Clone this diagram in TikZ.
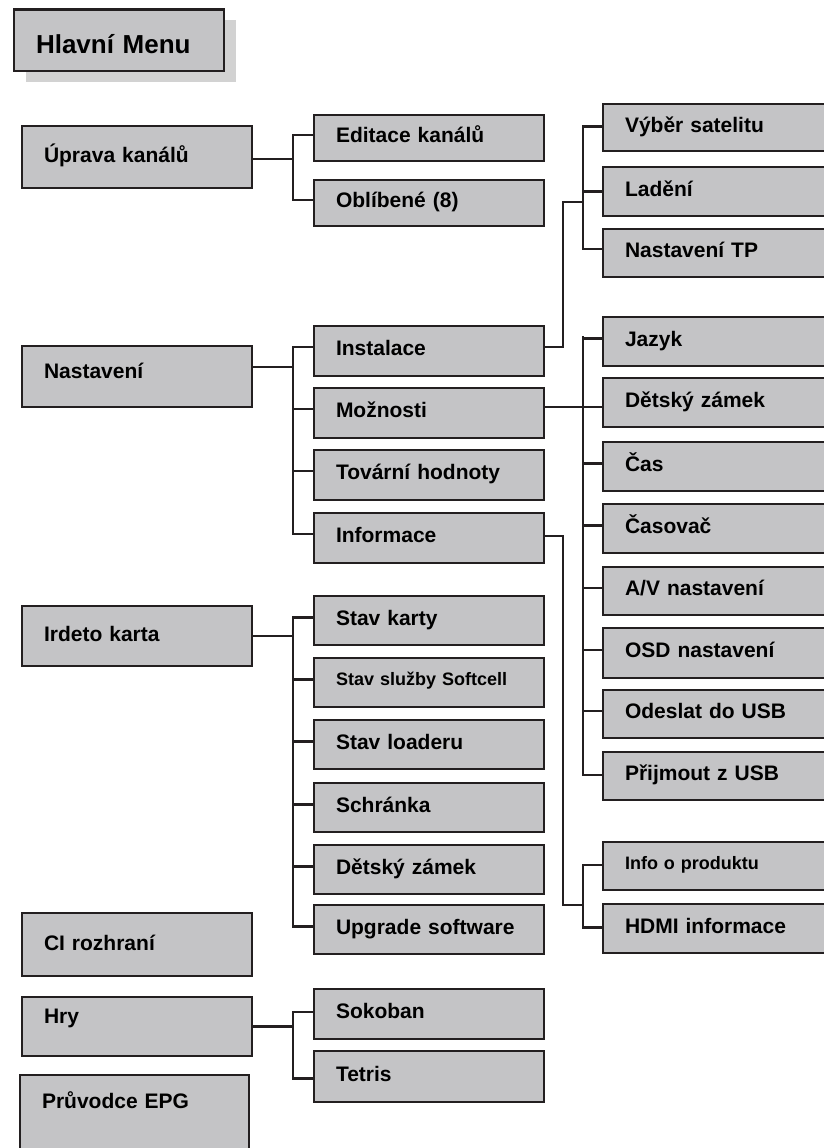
\documentclass[tikz,border=0pt]{standalone}
\usepackage{fontspec}
\setmainfont{Liberation Sans}
\usetikzlibrary{shadows,calc}
\definecolor{boxfill}{HTML}{C4C4C6}
\definecolor{edge}{HTML}{231F20}
\definecolor{shade}{HTML}{D2D2D2}
\tikzset{
  base/.style={rectangle, draw=edge, line width=2.8pt, fill=boxfill, anchor=north west,
    outer sep=0pt, inner xsep=22pt, inner ysep=0pt, align=left,
    font=\bfseries\fontsize{21}{25}\selectfont, text height=15pt, text depth=#1},
  base/.default=6pt,
  lbox/.style={base=#1, minimum width=230pt, text width=186pt},
  lbox/.default=4pt,
  mbox/.style={base, minimum width=230pt, text width=186pt, minimum height=#1},
  rbox/.style={base, minimum width=240pt, text width=196pt, minimum height=#1},
  small/.style={font=\bfseries\fontsize{18}{22}\selectfont, text height=12.9pt},
  conn/.style={draw=edge, line width=2.3pt, line cap=rect},
}
\begin{document}
\begin{tikzpicture}[x=1pt,y=-1pt]
\useasboundingbox (0,0) rectangle (824,1148);

% title
\node[base, minimum width=210pt, text width=166pt, minimum height=61.5pt,
  font=\bfseries\fontsize{26}{30}\selectfont, text height=26.6pt, text depth=0pt,
  drop shadow={shadow xshift=11.5pt, shadow yshift=-10.5pt, fill=shade, opacity=1}]
  (title) at (14,9.5) {Hlavní Menu};

% left column
\node[lbox, minimum height=62pt] (upr) at (22,126) {Úprava kanálů};
\node[lbox=12pt, minimum height=61pt] (nas) at (22,346) {Nastavení};
\node[lbox, minimum height=60pt] (ird) at (22,606) {Irdeto karta};
\node[lbox, minimum height=63pt] (ci) at (22,913) {CI rozhraní};
\node[lbox=22pt, minimum height=59pt] (hry) at (22,997) {Hry};
\node[base=39pt, minimum width=229pt, text width=185pt, minimum height=90pt] (epg) at (20,1075) {Průvodce EPG};

% middle column
\node[mbox=46pt] (edi) at (314,115) {Editace kanálů};
\node[mbox=46pt] (obl) at (314,180) {Oblíbené (8)};
\node[mbox=50pt] (ins) at (314,326) {Instalace};
\node[mbox=50pt] (moz) at (314,388) {Možnosti};
\node[mbox=50pt] (tov) at (314,450) {Tovární hodnoty};
\node[mbox=50pt] (inf) at (314,513) {Informace};
\node[mbox=49pt] (sk) at (314,596) {Stav karty};
\node[mbox=49pt, small] (ss) at (314,658) {Stav služby Softcell};
\node[mbox=49pt] (sl) at (314,720) {Stav loaderu};
\node[mbox=49pt] (sch) at (314,783) {Schránka};
\node[mbox=49pt] (dz) at (314,845) {Dětský zámek};
\node[mbox=49pt] (upg) at (314,905) {Upgrade software};
\node[mbox=50pt] (sok) at (314,989) {Sokoban};
\node[mbox=51pt] (tet) at (314,1051) {Tetris};

% right column
\node[rbox=47pt] (vys) at (603,104) {Výběr satelitu};
\node[rbox=49pt] (lad) at (603,167) {Ladění};
\node[rbox=48pt] (ntp) at (603,229) {Nastavení TP};
\node[rbox=49pt] (jaz) at (603,317) {Jazyk};
\node[rbox=49pt] (dz2) at (603,378) {Dětský zámek};
\node[rbox=49pt] (cas) at (603,442) {Čas};
\node[rbox=49pt] (casv) at (603,504) {Časovač};
\node[rbox=48pt] (av) at (603,567) {A/V nastavení};
\node[rbox=50pt] (osd) at (603,628) {OSD nastavení};
\node[rbox=48pt] (ode) at (603,690) {Odeslat do USB};
\node[rbox=48pt] (pri) at (603,752) {Přijmout z USB};
\node[rbox=48pt, small] (ipr) at (603,842) {Info o produktu};
\node[rbox=49pt] (hdmi) at (603,904) {HDMI informace};

% left -> middle fans
\draw[conn] ($(upr.east)+(0,2)$) -- ++(40.7,0);
\draw[conn] ($(edi.west)+(-21.3,-3)$) -- ($(obl.west)+(-21.3,-3)$);
\foreach \c in {edi,obl} \draw[conn] ($(\c.west)+(0,-3)$) -- ++(-21.3,0);

\draw[conn] ($(nas.east)+(0,-9.5)$) -- ++(40.7,0);
\draw[conn] ($(ins.west)+(-21.3,-4)$) -- ($(inf.west)+(-21.3,-4)$);
\foreach \c in {ins,moz,tov,inf} \draw[conn] ($(\c.west)+(0,-4)$) -- ++(-21.3,0);

\draw[conn] (ird.east) -- ++(40.7,0);
\draw[conn] ($(sk.west)+(-21.3,-3)$) -- ($(upg.west)+(-21.3,-3)$);
\foreach \c in {sk,ss,sl,sch,dz,upg} \draw[conn] ($(\c.west)+(0,-3)$) -- ++(-21.3,0);

\draw[conn] (hry.east) -- ++(40.7,0);
\draw[conn] ($(sok.west)+(-21.3,-2)$) -- ($(tet.west)+(-21.3,2)$);
\draw[conn] ($(sok.west)+(0,-2)$) -- ++(-21.3,0);
\draw[conn] ($(tet.west)+(0,2)$) -- ++(-21.3,0);

% Instalace -> right group
\coordinate (jr1) at ($(lad.west)+(-20,10.5)$);
\draw[conn] ($(ins.east)+(0,-4)$) -- ++(19,0) |- (jr1);
\draw[conn] ($(vys.west)+(-20,-1)$) -- ($(ntp.west)+(-20,-4)$);
\draw[conn] ($(vys.west)+(0,-1)$) -- ++(-20,0);
\draw[conn] (lad.west) -- ++(-20,0);
\draw[conn] ($(ntp.west)+(0,-4)$) -- ++(-20,0);

% Moznosti -> right group
\coordinate (mz) at ($(moz.east)+(0,-6)$);
\draw[conn] (mz) -- (mz -| dz2.west);
\draw[conn] ($(jaz.west)+(-20,-4)$) -- ($(pri.west)+(-20,-1)$);
\foreach \c in {jaz,cas,casv,av,osd,ode} \draw[conn] ($(\c.west)+(0,-3)$) -- ++(-20,0);
\draw[conn] ($(pri.west)+(0,-1)$) -- ++(-20,0);

% Informace -> right group
\coordinate (jr2) at ($(hdmi.west)+(-20,-23.5)$);
\draw[conn] ($(inf.east)+(0,-2)$) -- ++(19,0) |- (jr2);
\draw[conn] ($(ipr.west)+(-20,-1)$) -- ($(hdmi.west)+(-20,-1)$);
\foreach \c in {ipr,hdmi} \draw[conn] ($(\c.west)+(0,-1)$) -- ++(-20,0);
\end{tikzpicture}
\end{document}
